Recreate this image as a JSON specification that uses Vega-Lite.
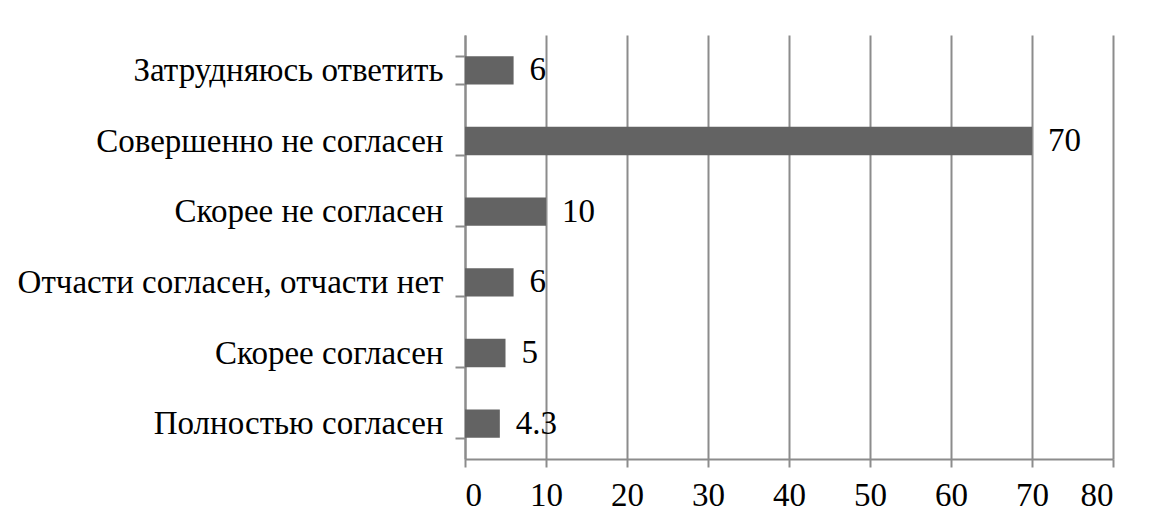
{
  "$schema": "https://vega.github.io/schema/vega-lite/v6.json",
  "autosize": {"type": "none"},
  "padding": {"left": 465, "top": 35, "right": 46, "bottom": 67},
  "width": 648,
  "height": 424,
  "background": "white",
  "config": {
    "view": {"stroke": null},
    "font": "'Liberation Serif', 'Times New Roman', serif"
  },
  "data": {
    "values": [
      {"category": "Затрудняюсь ответить", "value": 6},
      {"category": "Совершенно не согласен", "value": 70},
      {"category": "Скорее не согласен", "value": 10},
      {"category": "Отчасти согласен, отчасти нет", "value": 6},
      {"category": "Скорее согласен", "value": 5},
      {"category": "Полностью согласен", "value": 4.3}
    ]
  },
  "encoding": {
    "y": {
      "field": "category",
      "type": "nominal",
      "sort": null,
      "scale": {"paddingInner": 0.6, "paddingOuter": 0.3},
      "axis": {
        "title": null,
        "tickBand": "extent",
        "grid": false,
        "domainColor": "#8c8c8c",
        "domainWidth": 2,
        "tickColor": "#8c8c8c",
        "tickWidth": 2,
        "tickSize": 10,
        "labelPadding": 12,
        "labelFont": "'Liberation Serif', 'Times New Roman', serif",
        "labelFontSize": 33,
        "labelColor": "black",
        "labelLimit": 500
      }
    },
    "x": {
      "field": "value",
      "type": "quantitative",
      "scale": {"domain": [0, 80], "nice": false},
      "axis": {
        "title": null,
        "values": [0, 10, 20, 30, 40, 50, 60, 70, 80],
        "grid": true,
        "gridColor": "#8c8c8c",
        "gridWidth": 2,
        "domainColor": "#8c8c8c",
        "domainWidth": 2,
        "tickColor": "#8c8c8c",
        "tickWidth": 2,
        "tickSize": 8,
        "labelPadding": 12,
        "labelFont": "'Liberation Serif', 'Times New Roman', serif",
        "labelFontSize": 33,
        "labelColor": "black"
      }
    }
  },
  "layer": [
    {"mark": {"type": "bar", "color": "#636363"}},
    {
      "mark": {"type": "text", "align": "left", "baseline": "middle", "dx": 16, "fontSize": 33, "font": "'Liberation Serif', 'Times New Roman', serif", "color": "black"},
      "encoding": {"text": {"field": "value", "type": "quantitative"}}
    }
  ]
}
